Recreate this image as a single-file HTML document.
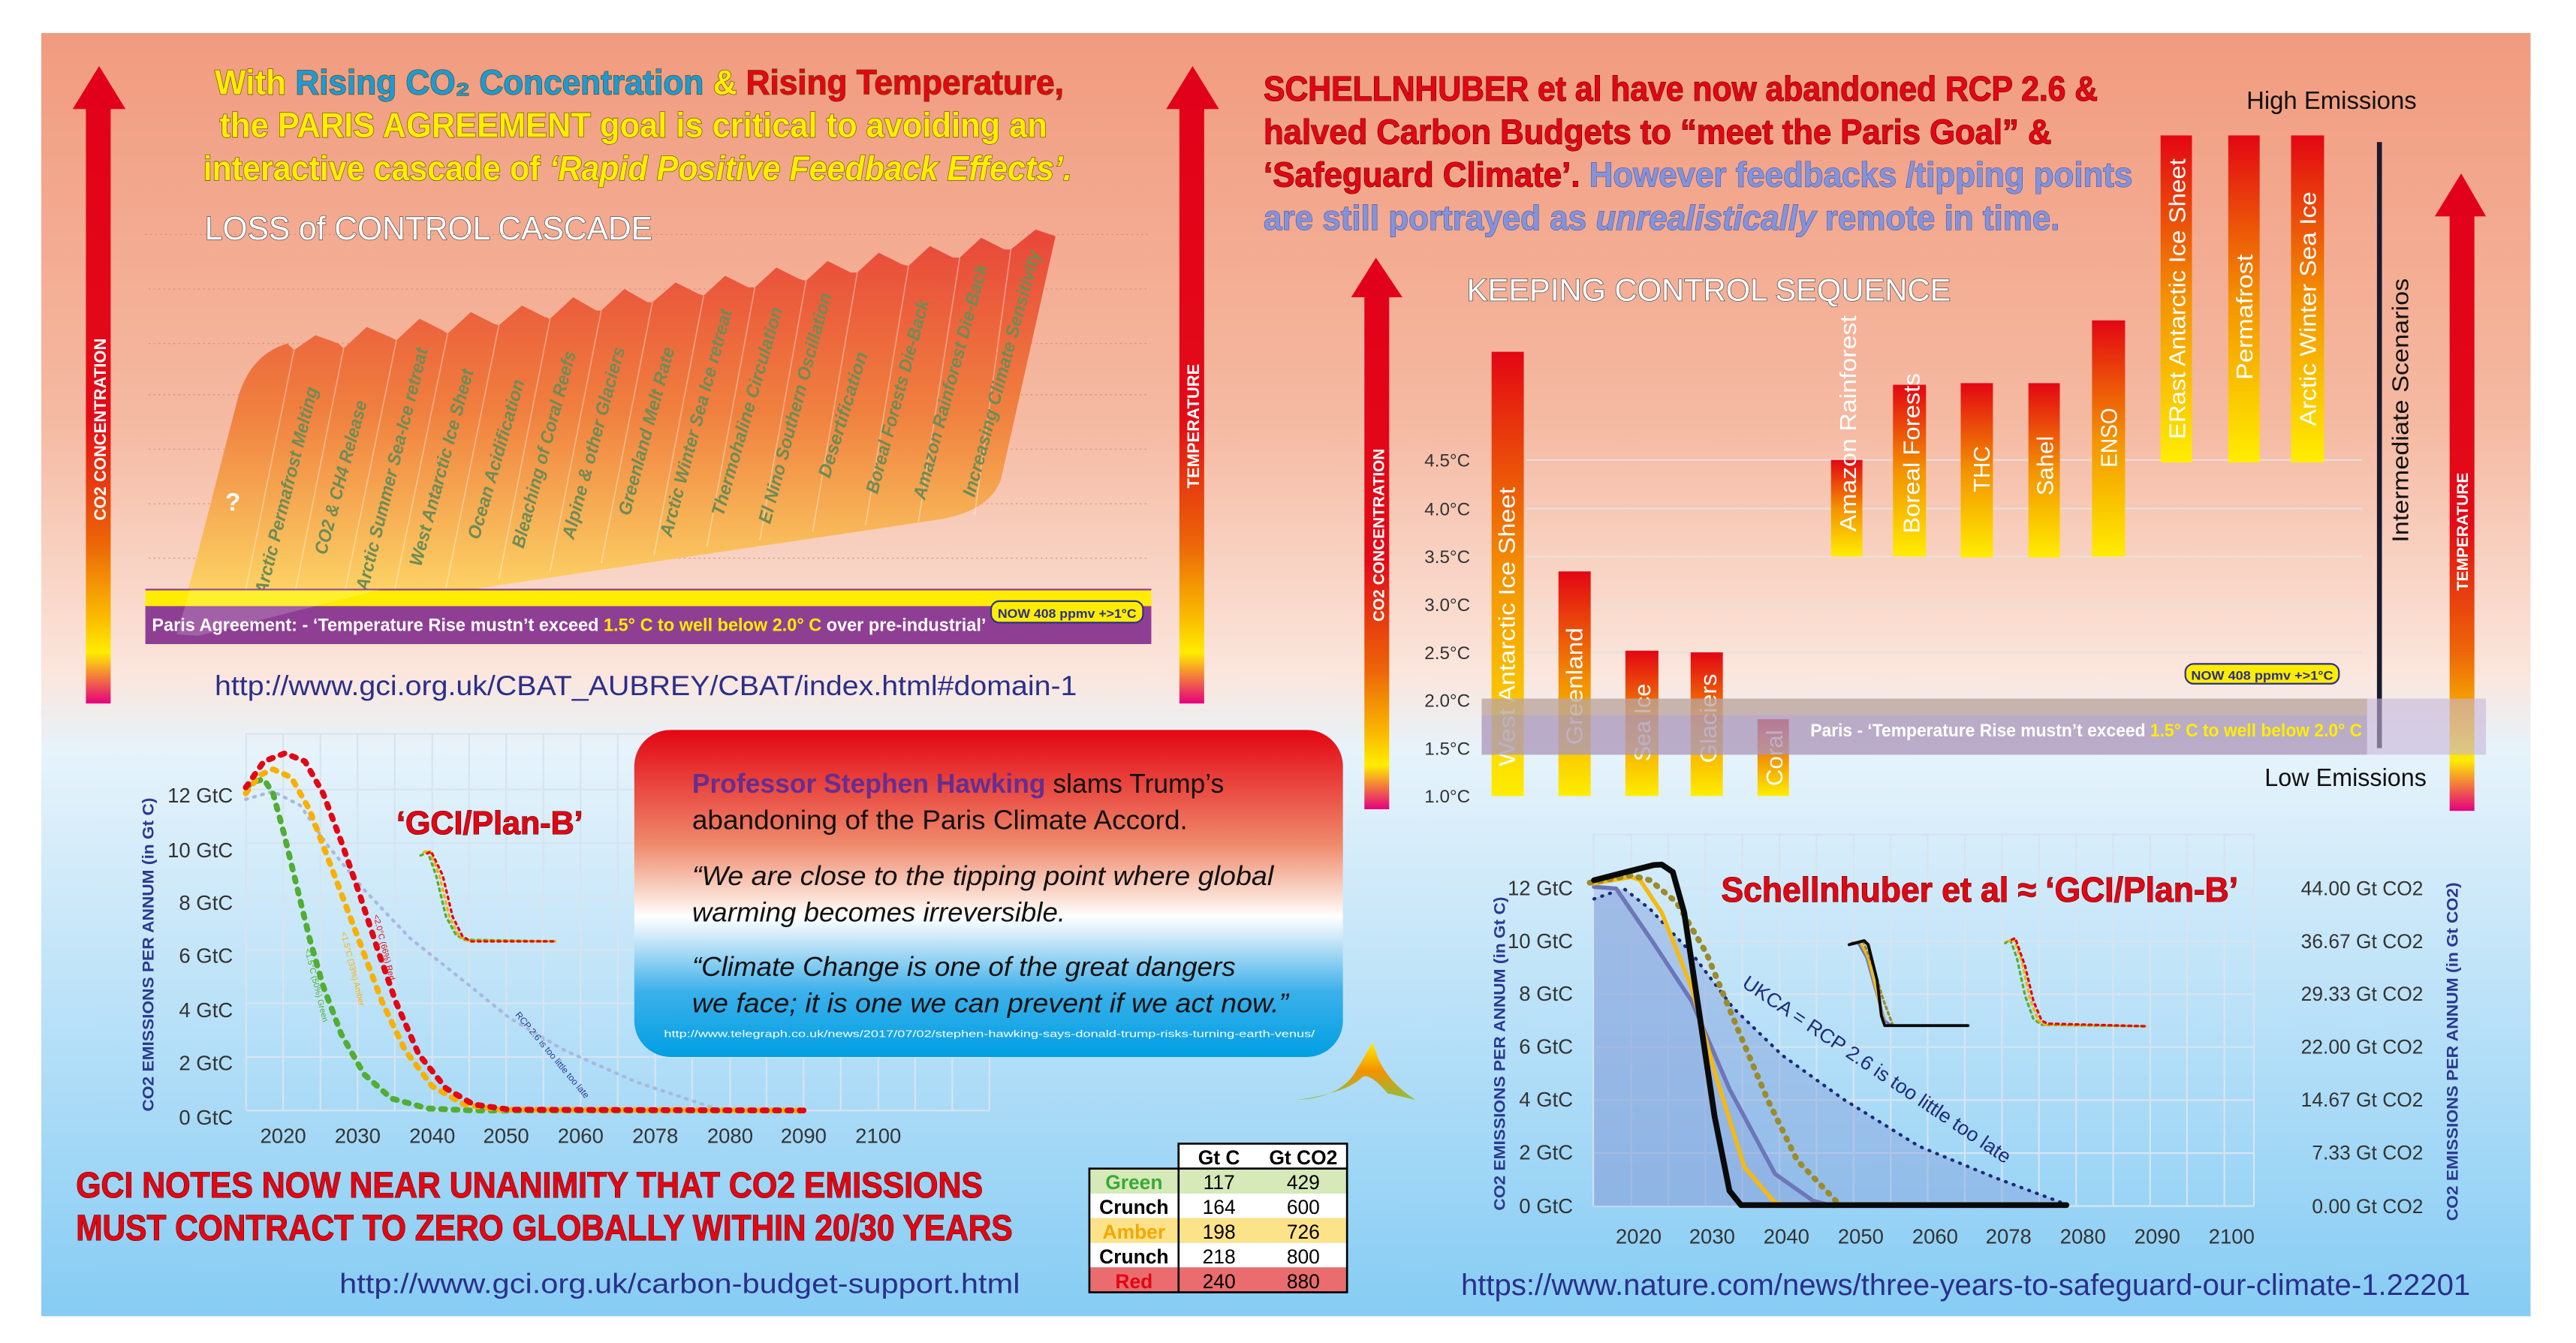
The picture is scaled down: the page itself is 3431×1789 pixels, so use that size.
<!DOCTYPE html>
<html><head><meta charset="utf-8"><style>html,body{margin:0;padding:0;background:#fff}svg{display:block}text{font-family:"Liberation Sans",sans-serif}</style></head>
<body>
<svg width="3431" height="1789" viewBox="0 0 1559.5 813.2" preserveAspectRatio="none" xmlns="http://www.w3.org/2000/svg">
<defs>
<linearGradient id="bg" x1="0" y1="20" x2="0" y2="797" gradientUnits="userSpaceOnUse">
<stop offset="0" stop-color="#f19b7f"/><stop offset="0.3" stop-color="#f5b9a1"/><stop offset="0.5" stop-color="#fbe6dd"/><stop offset="0.56" stop-color="#e6f3fb"/><stop offset="1" stop-color="#86ccf4"/></linearGradient>
<linearGradient id="arr" x1="0" y1="0" x2="0" y2="1">
<stop offset="0" stop-color="#e2001a"/><stop offset="0.55" stop-color="#e30b17"/><stop offset="0.75" stop-color="#ec6608"/><stop offset="0.87" stop-color="#fbbf00"/><stop offset="0.92" stop-color="#ffed00"/><stop offset="1" stop-color="#e5007e"/></linearGradient>
<linearGradient id="bar" x1="0" y1="0" x2="0" y2="1">
<stop offset="0" stop-color="#e30613"/><stop offset="0.5" stop-color="#f39200"/><stop offset="1" stop-color="#ffed00"/></linearGradient>
<linearGradient id="casc" x1="0" y1="139" x2="0" y2="384" gradientUnits="userSpaceOnUse">
<stop offset="0" stop-color="#e8473a"/><stop offset="0.45" stop-color="#f0803f"/><stop offset="1" stop-color="#ffe66e"/></linearGradient>
<linearGradient id="hawk" x1="0" y1="0" x2="0" y2="1">
<stop offset="0" stop-color="#e30613"/><stop offset="0.35" stop-color="#ef8a6c"/><stop offset="0.52" stop-color="#fbe3d8"/><stop offset="0.57" stop-color="#ffffff"/><stop offset="0.64" stop-color="#c9e7f8"/><stop offset="0.8" stop-color="#3cb0ea"/><stop offset="1" stop-color="#009fe3"/></linearGradient>
<linearGradient id="logo" x1="0" y1="0" x2="0" y2="1"><stop offset="0" stop-color="#ffed00"/><stop offset="0.5" stop-color="#f39200"/><stop offset="1" stop-color="#8cbf3f"/></linearGradient>
</defs>
<rect x="0" y="0" width="1559.5" height="813.2" fill="#fff"/>
<rect x="25" y="20" width="1507" height="777" fill="url(#bg)"/>

<path d="M44,66 L60,40 L76,66 L67,66 L67,426 L52,426 L52,66 Z" fill="url(#arr)"/>
<text transform="translate(64,260) rotate(-90)" text-anchor="middle" font-size="10" font-weight="bold" fill="#fff">CO2 CONCENTRATION</text>
<path d="M706,66 L722,40 L738,66 L729,66 L729,426 L714,426 L714,66 Z" fill="url(#arr)"/>
<text transform="translate(726,258) rotate(-90)" text-anchor="middle" font-size="10" font-weight="bold" fill="#fff">TEMPERATURE</text>

<g font-weight="bold" font-size="21" stroke="#5a4a00" stroke-width="0.6" paint-order="stroke">
<text x="130" y="57" textLength="514" lengthAdjust="spacingAndGlyphs"><tspan fill="#ffed00">With </tspan><tspan fill="#1d9ad6">Rising CO₂ Concentration </tspan><tspan fill="#ffed00">&amp; </tspan><tspan fill="#e30613">Rising Temperature,</tspan></text>
<text x="133" y="83" textLength="501" lengthAdjust="spacingAndGlyphs" fill="#ffed00">the PARIS AGREEMENT goal is critical to avoiding an</text>
<text x="123" y="109" textLength="526" lengthAdjust="spacingAndGlyphs" fill="#ffed00">interactive cascade of <tspan font-style="italic">‘Rapid Positive Feedback Effects’.</tspan></text>
</g>
<text x="124" y="145" textLength="271" lengthAdjust="spacingAndGlyphs" font-size="20" fill="#fff" stroke="#555" stroke-width="0.7" paint-order="stroke">LOSS of CONTROL CASCADE</text>

<g stroke="#c98a7a" stroke-width="0.6" stroke-dasharray="1,2" opacity="0.8">
<line x1="88" y1="142" x2="695" y2="142"/><line x1="90" y1="175" x2="695" y2="175"/><line x1="90" y1="208" x2="695" y2="208"/><line x1="90" y1="239" x2="695" y2="239"/><line x1="90" y1="272" x2="695" y2="272"/><line x1="90" y1="305" x2="695" y2="305"/><line x1="90" y1="338" x2="695" y2="338"/>
</g>

<path d="M107,384 L143,245 Q150,215 174,208 L178,212 L191,203 L205,208 L208,211 L222,198 L236,204 L240,206 L254,193 L268,200 L271,202 L285,189 L299,196 L302,197 L316,185 L330,192 L333,193 L347,180 L361,188 L364,188 L378,175 L392,183 L395,183 L409,171 L423,178 L426,179 L439,167 L453,174 L457,174 L470,162 L484,169 L488,170 L501,158 L515,165 L519,165 L532,153 L546,160 L550,161 L563,149 L577,156 L581,156 L594,144 L608,151 L612,151 L627,139 L639,143 L606,290 Q600,308 572,314 L539,319 L417,337 L298,355 Z" fill="url(#casc)"/>
<g stroke="#fff" stroke-opacity="0.35" stroke-width="0.8">
<line x1="178" y1="212" x2="145" y2="376"/><line x1="208" y1="211" x2="176" y2="372"/><line x1="240" y1="206" x2="207" y2="367"/><line x1="271" y1="202" x2="238" y2="362"/><line x1="302" y1="197" x2="270" y2="356"/><line x1="333" y1="193" x2="302" y2="351"/><line x1="364" y1="188" x2="333" y2="346"/><line x1="395" y1="183" x2="364" y2="341"/><line x1="426" y1="179" x2="396" y2="336"/><line x1="457" y1="174" x2="428" y2="331"/><line x1="488" y1="170" x2="460" y2="327"/><line x1="519" y1="165" x2="492" y2="322"/><line x1="550" y1="161" x2="524" y2="318"/><line x1="581" y1="156" x2="556" y2="316"/><line x1="612" y1="151" x2="590" y2="312"/>
</g>
<text x="141" y="309" font-size="15" font-weight="bold" fill="#fff" text-anchor="middle">?</text>
<g font-size="11" font-weight="bold" font-style="italic" fill="#6e8c55" text-anchor="middle">
<text transform="translate(173,297) rotate(-76)" dy="4" textLength="129" lengthAdjust="spacingAndGlyphs">Arctic Permafrost Melting</text>
<text transform="translate(206,289) rotate(-75)" dy="4" textLength="96" lengthAdjust="spacingAndGlyphs">CO2 &amp; CH4 Release</text>
<text transform="translate(237,284) rotate(-76)" dy="4" textLength="151" lengthAdjust="spacingAndGlyphs">Arctic Summer Sea-Ice retreat</text>
<text transform="translate(267,283) rotate(-75)" dy="4" textLength="123" lengthAdjust="spacingAndGlyphs">West Antarctic Ice Sheet</text>
<text transform="translate(300,278) rotate(-74)" dy="4" textLength="100" lengthAdjust="spacingAndGlyphs">Ocean Acidification</text>
<text transform="translate(329,272) rotate(-75)" dy="4" textLength="123" lengthAdjust="spacingAndGlyphs">Bleaching of Coral Reefs</text>
<text transform="translate(359,268) rotate(-75)" dy="4" textLength="120" lengthAdjust="spacingAndGlyphs">Alpine &amp; other Glaciers</text>
<text transform="translate(391,261) rotate(-75)" dy="4" textLength="105" lengthAdjust="spacingAndGlyphs">Greenland Melt Rate</text>
<text transform="translate(421,256) rotate(-75)" dy="4" textLength="142" lengthAdjust="spacingAndGlyphs">Arctic Winter Sea Ice retreat</text>
<text transform="translate(452,249) rotate(-74)" dy="4" textLength="131" lengthAdjust="spacingAndGlyphs">Thermohaline Circulation</text>
<text transform="translate(481,247) rotate(-75)" dy="4" textLength="144" lengthAdjust="spacingAndGlyphs">El Nino Southern Oscillation</text>
<text transform="translate(510,251) rotate(-73)" dy="4" textLength="79" lengthAdjust="spacingAndGlyphs">Desertification</text>
<text transform="translate(543,240) rotate(-75)" dy="4" textLength="121" lengthAdjust="spacingAndGlyphs">Boreal Forests Die-Back</text>
<text transform="translate(575,231) rotate(-75)" dy="4" textLength="147" lengthAdjust="spacingAndGlyphs">Amazon Rainforest Die-Back</text>
<text transform="translate(606,226) rotate(-75)" dy="4" textLength="154" lengthAdjust="spacingAndGlyphs">Increasing Climate Sensitivity</text>
</g>

<rect x="88" y="357" width="609" height="10" fill="#ffed00"/>
<line x1="88" y1="357" x2="697" y2="357" stroke="#8e3f94" stroke-width="1"/>
<rect x="88" y="367" width="609" height="23" fill="#8e3f94"/>
<path d="M107,384 L115,357 L230,357 L120,385 Z" fill="#fff" opacity="0.18"/>
<text x="92" y="382" font-size="11" font-weight="bold" fill="#fff" textLength="505" lengthAdjust="spacingAndGlyphs">Paris  Agreement: - ‘Temperature Rise mustn’t exceed <tspan fill="#ffed00">1.5° C to well below 2.0° C</tspan> over pre-industrial’</text>
<rect x="600" y="364" width="92" height="13" rx="5" fill="#ffed00" stroke="#2b2f8a" stroke-width="1"/>
<text x="646" y="374" text-anchor="middle" font-size="7.5" font-weight="bold" fill="#2b2f8a" textLength="84" lengthAdjust="spacingAndGlyphs">NOW 408 ppmv +&gt;1°C</text>
<text x="130" y="421" font-size="17" fill="#2b2f8a" textLength="522" lengthAdjust="spacingAndGlyphs">http://www.gci.org.uk/CBAT_AUBREY/CBAT/index.html#domain-1</text>

<g font-weight="bold" font-size="21" stroke="#4a0000" stroke-width="0.5" paint-order="stroke">
<text x="765" y="61" fill="#e30613" textLength="505" lengthAdjust="spacingAndGlyphs">SCHELLNHUBER et al have now abandoned RCP 2.6 &amp;</text>
<text x="765" y="87" fill="#e30613" textLength="477" lengthAdjust="spacingAndGlyphs">halved Carbon Budgets  to “meet the Paris Goal” &amp;</text>
<text x="765" y="113" textLength="526" lengthAdjust="spacingAndGlyphs"><tspan fill="#e30613">‘Safeguard Climate’.</tspan><tspan fill="#8393dc" stroke="#4a4a8a"> However feedbacks /tipping points</tspan></text>
<text x="765" y="139" fill="#8393dc" stroke="#4a4a8a" textLength="482" lengthAdjust="spacingAndGlyphs">are still portrayed as <tspan font-style="italic">unrealistically</tspan> remote in time.</text>
</g>
<text x="1360" y="66" font-size="15" fill="#111" textLength="103" lengthAdjust="spacingAndGlyphs">High Emissions</text>
<text x="888" y="182" font-size="19" fill="#fff" stroke="#555" stroke-width="0.7" paint-order="stroke" textLength="293" lengthAdjust="spacingAndGlyphs">KEEPING CONTROL SEQUENCE</text>

<path d="M818,180 L833,156 L849,180 L841,180 L841,490 L826,490 L826,180 Z" fill="url(#arr)"/>
<text transform="translate(838,324) rotate(-90)" text-anchor="middle" font-size="9.5" font-weight="bold" fill="#fff">CO2 CONCENTRATION</text>
<path d="M1474,131 L1490,105 L1505,131 L1498,131 L1498,491 L1483,491 L1483,131 Z" fill="url(#arr)"/>
<text transform="translate(1494,322) rotate(-90)" text-anchor="middle" font-size="9.5" font-weight="bold" fill="#fff">TEMPERATURE</text>

<g stroke="#e8e0dc" stroke-width="1">
<line x1="924" y1="278.5" x2="1430" y2="278.5"/><line x1="924" y1="308" x2="1430" y2="308"/><line x1="924" y1="337" x2="1430" y2="337"/><line x1="924" y1="366" x2="1430" y2="366"/><line x1="924" y1="395" x2="1430" y2="395"/>
</g>
<g font-size="11" fill="#333" text-anchor="end">
<text x="890" y="282.5">4.5°C</text><text x="890" y="312">4.0°C</text><text x="890" y="341">3.5°C</text><text x="890" y="370">3.0°C</text><text x="890" y="399">2.5°C</text><text x="890" y="428">2.0°C</text><text x="890" y="457">1.5°C</text><text x="890" y="486">1.0°C</text>
</g>
<g fill="url(#bar)">
<rect x="903" y="213" width="19.5" height="269"/>
<rect x="943.5" y="346" width="19.5" height="136"/>
<rect x="984" y="394" width="20" height="88"/>
<rect x="1023.5" y="395" width="19.5" height="87"/>
<rect x="1064" y="435.5" width="19" height="46.5"/>
<rect x="1108.5" y="278.5" width="19" height="58.5"/>
<rect x="1146" y="233" width="20" height="104"/>
<rect x="1187" y="232" width="19.5" height="105.5"/>
<rect x="1228" y="232" width="19" height="105.5"/>
<rect x="1266.5" y="194" width="20" height="143"/>
<rect x="1308" y="82" width="19" height="198"/>
<rect x="1349" y="82" width="19" height="198"/>
<rect x="1387" y="82" width="20" height="198"/>
</g>
<g font-size="14" fill="#fff">
<text transform="translate(917,464) rotate(-90)" textLength="169" lengthAdjust="spacingAndGlyphs">West Antarctic Ice Sheet</text>
<text transform="translate(958,451) rotate(-90)" textLength="71" lengthAdjust="spacingAndGlyphs">Greenland</text>
<text transform="translate(999,461) rotate(-90)" textLength="47" lengthAdjust="spacingAndGlyphs">Sea Ice</text>
<text transform="translate(1039,462) rotate(-90)" textLength="54" lengthAdjust="spacingAndGlyphs">Glaciers</text>
<text transform="translate(1079,476) rotate(-90)" textLength="34" lengthAdjust="spacingAndGlyphs">Coral</text>
<text transform="translate(1123.5,322) rotate(-90)" textLength="131" lengthAdjust="spacingAndGlyphs">Amazon Rainforest</text>
<text transform="translate(1162,323) rotate(-90)" textLength="97" lengthAdjust="spacingAndGlyphs">Boreal Forests</text>
<text transform="translate(1204.5,298) rotate(-90)" textLength="28" lengthAdjust="spacingAndGlyphs">THC</text>
<text transform="translate(1243,300) rotate(-90)" textLength="36" lengthAdjust="spacingAndGlyphs">Sahel</text>
<text transform="translate(1281.5,283) rotate(-90)" textLength="36" lengthAdjust="spacingAndGlyphs">ENSO</text>
<text transform="translate(1323,266) rotate(-90)" textLength="170" lengthAdjust="spacingAndGlyphs">ERast Antarctic Ice Sheet</text>
<text transform="translate(1363.5,230) rotate(-90)" textLength="76" lengthAdjust="spacingAndGlyphs">Permafrost</text>
<text transform="translate(1402,258) rotate(-90)" textLength="142" lengthAdjust="spacingAndGlyphs">Arctic Winter Sea Ice</text>
</g>
<line x1="1440.5" y1="86" x2="1440.5" y2="453" stroke="#1a1a2e" stroke-width="3"/>
<text transform="translate(1458,328.5) rotate(-90)" font-size="14" fill="#111" textLength="160" lengthAdjust="spacingAndGlyphs">Intermediate Scenarios</text>
<rect x="1323" y="402" width="93" height="12" rx="5" fill="#ffed00" stroke="#2b2f8a" stroke-width="1"/>
<text x="1369.5" y="411.5" text-anchor="middle" font-size="7.5" font-weight="bold" fill="#2b2f8a" textLength="86" lengthAdjust="spacingAndGlyphs">NOW 408 ppmv +&gt;1°C</text>
<rect x="897" y="423" width="608" height="34" fill="#c7b6d8" opacity="0.6"/>
<rect x="897" y="423" width="536" height="10" fill="#b39a72" opacity="0.45"/>
<rect x="897" y="433" width="536" height="24" fill="#9a86a6" opacity="0.45"/>
<text x="1096" y="446" font-size="11" font-weight="bold" fill="#fff" textLength="334" lengthAdjust="spacingAndGlyphs">Paris  - ‘Temperature Rise mustn’t exceed <tspan fill="#ffed00">1.5° C to well below 2.0° C</tspan></text>
<text x="1371" y="476" font-size="15" fill="#111" textLength="98" lengthAdjust="spacingAndGlyphs">Low Emissions</text>

<g stroke="#d6e4f0" stroke-width="1">
<line x1="149" y1="444.4" x2="599" y2="444.4"/><line x1="149" y1="478" x2="599" y2="478"/><line x1="149" y1="510.5" x2="599" y2="510.5"/><line x1="149" y1="543" x2="599" y2="543"/><line x1="149" y1="575" x2="599" y2="575"/><line x1="149" y1="607.5" x2="599" y2="607.5"/><line x1="149" y1="640" x2="599" y2="640"/><line x1="149" y1="672.4" x2="599" y2="672.4"/>
<line x1="149" y1="444" x2="149" y2="672"/><line x1="171.4" y1="444" x2="171.4" y2="672"/><line x1="194" y1="444" x2="194" y2="672"/><line x1="216.5" y1="444" x2="216.5" y2="672"/><line x1="239" y1="444" x2="239" y2="672"/><line x1="261.7" y1="444" x2="261.7" y2="672"/><line x1="284" y1="444" x2="284" y2="672"/><line x1="306.4" y1="444" x2="306.4" y2="672"/><line x1="329" y1="444" x2="329" y2="672"/><line x1="351.5" y1="444" x2="351.5" y2="672"/><line x1="374" y1="444" x2="374" y2="672"/><line x1="396.7" y1="444" x2="396.7" y2="672"/><line x1="419" y1="444" x2="419" y2="672"/><line x1="442" y1="444" x2="442" y2="672"/><line x1="464" y1="444" x2="464" y2="672"/><line x1="486.5" y1="444" x2="486.5" y2="672"/><line x1="509" y1="444" x2="509" y2="672"/><line x1="531.7" y1="444" x2="531.7" y2="672"/><line x1="554" y1="444" x2="554" y2="672"/><line x1="576.5" y1="444" x2="576.5" y2="672"/><line x1="599" y1="444" x2="599" y2="672"/>
</g>
<g font-size="12.5" fill="#333" text-anchor="end">
<text x="141" y="486">12 GtC</text><text x="141" y="519">10 GtC</text><text x="141" y="551">8 GtC</text><text x="141" y="583">6 GtC</text><text x="141" y="616">4 GtC</text><text x="141" y="648">2 GtC</text><text x="141" y="681">0 GtC</text>
</g>
<g font-size="12.5" fill="#333" text-anchor="middle">
<text x="171.4" y="692">2020</text><text x="216.5" y="692">2030</text><text x="261.7" y="692">2040</text><text x="306.4" y="692">2050</text><text x="351.5" y="692">2060</text><text x="396.7" y="692">2078</text><text x="442" y="692">2080</text><text x="486.5" y="692">2090</text><text x="531.7" y="692">2100</text>
</g>
<text transform="translate(93,578) rotate(-90)" text-anchor="middle" font-size="9.5" font-weight="bold" fill="#2b3990" textLength="190" lengthAdjust="spacingAndGlyphs">CO2 EMISSIONS PER ANNUM (in Gt C)</text>
<g fill="none" stroke-linecap="round" stroke-linejoin="round">
<path d="M148.8,484 L165.3,479.2 L181.8,487.7 L198.4,512 L220.4,538.7 L248,567.9 L275.5,589.8 L308.6,616.5 L341.6,635.9 L385.7,655.4 L435.3,671.9" stroke="#a9b8e0" stroke-width="2" stroke-dasharray="1,4"/>
<path d="M148.8,476.8 L154.3,473.1 L159.8,471.9 L165.3,480.4 L171.9,504.7 L179,533.9 L187.3,567.9 L195.6,597 L206.6,626.2 L220.4,650.5 L236.9,665.1 L259,671.2 L286.5,672.4 L479.4,672.4" stroke="#52ae32" stroke-width="3.5" stroke-dasharray="2.5,5"/>
<path d="M148.8,480.4 L157,469.5 L165.3,465.8 L176.3,470.7 L187.3,490.1 L198.4,519.3 L209.4,548.4 L220.4,577.6 L231.4,606.8 L245.2,635.9 L261.7,657.8 L281,668.7 L303,671.9 L485,672.4" stroke="#f9b000" stroke-width="3.5" stroke-dasharray="2.5,5"/>
<path d="M148.8,476.8 L159.8,461 L172.5,456.1 L184.6,461 L195.6,480.4 L206.6,509.6 L217.6,541.2 L228.7,575.2 L239.7,606.8 L253.5,638.4 L270,659 L286.5,668.7 L308.6,671.9 L486.5,672.4" stroke="#e30613" stroke-width="3.5" stroke-dasharray="2.5,5"/>
<path d="M254.6,518 L259,516 L264,530 L270,555 L276,566 L281,569 L337,570" stroke="#52ae32" stroke-width="1.5" stroke-dasharray="1.5,2.5"/>
<path d="M256.6,516 L260,515 L266,530 L272,555 L278,567 L283,569.5 L337,570" stroke="#f9b000" stroke-width="1.5" stroke-dasharray="1.5,2.5"/>
<path d="M258.6,516.8 L261,515.6 L268,530 L274,555 L280,567 L285,570 L337,570" stroke="#e30613" stroke-width="1.5" stroke-dasharray="1.5,2.5"/>
</g>
<text transform="translate(333,640) rotate(50)" text-anchor="middle" font-size="5.5" fill="#2b3990">RCP 2.6 is too little too late</text>
<text transform="translate(231,574) rotate(76)" text-anchor="middle" font-size="5" fill="#e30613">&lt;2.0°C (66%) Red</text>
<text transform="translate(212,587) rotate(76)" text-anchor="middle" font-size="5" fill="#f9b000">&lt;1.5°C (33%) Amber</text>
<text transform="translate(190,597) rotate(76)" text-anchor="middle" font-size="5" fill="#52ae32">&lt;1.5°C (50%) Green</text>
<text x="240" y="505" font-size="20" font-weight="bold" fill="#e30613" stroke="#4a0000" stroke-width="0.5" paint-order="stroke" textLength="113" lengthAdjust="spacingAndGlyphs">‘GCI/Plan-B’</text>

<rect x="384" y="442" width="429" height="198" rx="22" fill="url(#hawk)"/>
<g font-size="16.5" fill="#111">
<text x="419" y="480" textLength="322" lengthAdjust="spacingAndGlyphs"><tspan fill="#662d91" font-weight="bold">Professor Stephen Hawking</tspan> slams Trump’s</text>
<text x="419" y="502" textLength="300" lengthAdjust="spacingAndGlyphs">abandoning of the Paris Climate Accord.</text>
<text x="419" y="536" font-style="italic" textLength="352" lengthAdjust="spacingAndGlyphs">“We are close to the tipping point where global</text>
<text x="419" y="558" font-style="italic" textLength="226" lengthAdjust="spacingAndGlyphs">warming becomes irreversible.</text>
<text x="419" y="591" font-style="italic" textLength="329" lengthAdjust="spacingAndGlyphs">“Climate Change is one of the great dangers</text>
<text x="419" y="613" font-style="italic" textLength="361" lengthAdjust="spacingAndGlyphs">we face; it is one we can prevent if we act now.”</text>
</g>
<text x="402" y="628" font-size="6" fill="#fff" textLength="394" lengthAdjust="spacingAndGlyphs">http://www.telegraph.co.uk/news/2017/07/02/stephen-hawking-says-donald-trump-risks-turning-earth-venus/</text>
<path d="M785,666 Q810,665 820,650 Q826,640 831,631 L834,640 Q840,655 857,666 L840,662 Q830,650 825,652 Q815,662 785,666 Z" fill="url(#logo)"/>

<g font-size="22" font-weight="bold" fill="#e30613" stroke="#4a0000" stroke-width="0.5" paint-order="stroke">
<text x="46" y="725" textLength="549" lengthAdjust="spacingAndGlyphs">GCI NOTES NOW NEAR UNANIMITY THAT CO2 EMISSIONS</text>
<text x="46" y="751" textLength="567" lengthAdjust="spacingAndGlyphs">MUST CONTRACT TO ZERO GLOBALLY WITHIN 20/30 YEARS</text>
</g>
<text x="205.5" y="783" font-size="17" fill="#2b2f8a" textLength="412" lengthAdjust="spacingAndGlyphs">http://www.gci.org.uk/carbon-budget-support.html</text>

<rect x="713.5" y="692.5" width="102" height="15.1" fill="#fff" stroke="#000" stroke-width="1.2"/>
<rect x="659.5" y="707.6" width="156" height="15.1" fill="#d6e9b8"/>
<rect x="659.5" y="722.7" width="156" height="14.8" fill="#fff"/>
<rect x="659.5" y="737.5" width="156" height="15.1" fill="#fce38a"/>
<rect x="659.5" y="752.6" width="156" height="14.8" fill="#fff"/>
<rect x="659.5" y="767.4" width="156" height="15.1" fill="#ea6c6f"/>
<rect x="659.5" y="707.6" width="156" height="74.9" fill="none" stroke="#000" stroke-width="1.2"/>
<line x1="713.5" y1="692.5" x2="713.5" y2="782.5" stroke="#000" stroke-width="1.2"/>
<g font-size="12" text-anchor="middle">
<text x="738" y="705" font-weight="bold">Gt C</text><text x="789" y="705" font-weight="bold">Gt CO2</text>
<text x="686.5" y="720" font-weight="bold" fill="#3aaa35">Green</text><text x="738" y="720">117</text><text x="789" y="720">429</text>
<text x="686.5" y="735" font-weight="bold">Crunch</text><text x="738" y="735">164</text><text x="789" y="735">600</text>
<text x="686.5" y="750" font-weight="bold" fill="#f7a600">Amber</text><text x="738" y="750">198</text><text x="789" y="750">726</text>
<text x="686.5" y="765" font-weight="bold">Crunch</text><text x="738" y="765">218</text><text x="789" y="765">800</text>
<text x="686.5" y="780" font-weight="bold" fill="#e30613">Red</text><text x="738" y="780">240</text><text x="789" y="780">880</text>
</g>

<g stroke="#d6e4f0" stroke-width="1">
<line x1="964.7" y1="505.3" x2="1364.5" y2="505.3"/><line x1="964.7" y1="537.8" x2="1364.5" y2="537.8"/><line x1="964.7" y1="570" x2="1364.5" y2="570"/><line x1="964.7" y1="602" x2="1364.5" y2="602"/><line x1="964.7" y1="634" x2="1364.5" y2="634"/><line x1="964.7" y1="666.1" x2="1364.5" y2="666.1"/><line x1="964.7" y1="698.2" x2="1364.5" y2="698.2"/><line x1="964.7" y1="730.3" x2="1364.5" y2="730.3"/>
<line x1="964.7" y1="505" x2="964.7" y2="730"/><line x1="987.6" y1="505" x2="987.6" y2="730"/><line x1="1010" y1="505" x2="1010" y2="730"/><line x1="1032.4" y1="505" x2="1032.4" y2="730"/><line x1="1054.8" y1="505" x2="1054.8" y2="730"/><line x1="1077.3" y1="505" x2="1077.3" y2="730"/><line x1="1099.7" y1="505" x2="1099.7" y2="730"/><line x1="1122.2" y1="505" x2="1122.2" y2="730"/><line x1="1144.6" y1="505" x2="1144.6" y2="730"/><line x1="1167" y1="505" x2="1167" y2="730"/><line x1="1189.5" y1="505" x2="1189.5" y2="730"/><line x1="1212" y1="505" x2="1212" y2="730"/><line x1="1234.4" y1="505" x2="1234.4" y2="730"/><line x1="1256.9" y1="505" x2="1256.9" y2="730"/><line x1="1279.3" y1="505" x2="1279.3" y2="730"/><line x1="1301.7" y1="505" x2="1301.7" y2="730"/><line x1="1324" y1="505" x2="1324" y2="730"/><line x1="1346.6" y1="505" x2="1346.6" y2="730"/><line x1="1364.5" y1="505" x2="1364.5" y2="730"/>
</g>
<path d="M965,544.3 L983,538 L999,550.5 L1024,577 L1049,610 L1079,639 L1116,665.6 L1161.6,694 L1207,712.8 L1251,729.3 L1251,730.3 L965,730.3 Z" fill="#8aa6de" opacity="0.5"/>
<path d="M965,537 L978.4,538 L1001,571 L1024,606 L1047,659.4 L1074.6,710.8 L1097.5,727 L1110,730.3 L965,730.3 Z" fill="#8aa6de" opacity="0.35"/>
<g font-size="12.5" fill="#333" text-anchor="end">
<text x="952.3" y="542">12 GtC</text><text x="952.3" y="574">10 GtC</text><text x="952.3" y="606">8 GtC</text><text x="952.3" y="638">6 GtC</text><text x="952.3" y="670">4 GtC</text><text x="952.3" y="702">2 GtC</text><text x="952.3" y="734.5">0 GtC</text>
</g>
<g font-size="12" fill="#333" text-anchor="end">
<text x="1467" y="542">44.00 Gt CO2</text><text x="1467" y="574">36.67 Gt CO2</text><text x="1467" y="606">29.33 Gt CO2</text><text x="1467" y="638">22.00 Gt CO2</text><text x="1467" y="670">14.67 Gt CO2</text><text x="1467" y="702">7.33 Gt CO2</text><text x="1467" y="734.5">0.00 Gt CO2</text>
</g>
<g font-size="12.5" fill="#333" text-anchor="middle">
<text x="992" y="753">2020</text><text x="1036.5" y="753">2030</text><text x="1081.5" y="753">2040</text><text x="1126.5" y="753">2050</text><text x="1171.5" y="753">2060</text><text x="1216" y="753">2078</text><text x="1261" y="753">2080</text><text x="1306" y="753">2090</text><text x="1351" y="753">2100</text>
</g>
<text transform="translate(911,638) rotate(-90)" text-anchor="middle" font-size="9.5" font-weight="bold" fill="#2b3990" textLength="190" lengthAdjust="spacingAndGlyphs">CO2 EMISSIONS PER ANNUM (in Gt C)</text>
<text transform="translate(1488,636.8) rotate(-90)" text-anchor="middle" font-size="9.5" font-weight="bold" fill="#2b3990" textLength="205" lengthAdjust="spacingAndGlyphs">CO2 EMISSIONS PER ANNUM (in Gt CO2)</text>
<g fill="none" stroke-linecap="round" stroke-linejoin="round">
<path d="M965,544.3 L983,538 L999,550.5 L1024,577 L1049,610 L1079,639 L1116,665.6 L1161.6,694 L1207,712.8 L1251,729.3" stroke="#1d2b7a" stroke-width="2" stroke-dasharray="0.5,4.5"/>
<path d="M965,537 L978.4,538 L1001,571 L1024,606 L1047,659.4 L1074.6,710.8 L1097.5,727 L1110,730.3" stroke="#6c76b8" stroke-width="2.5"/>
<path d="M965,535 L987.6,531 L993,533 L1006,552.6 L1024,597.8 L1038,649 L1056,706.7 L1074.6,728.3 L1085,730.3" stroke="#f6b90f" stroke-width="2.5"/>
<path d="M962.4,534.5 L987.6,530 L999,533 L1015,546.4 L1033,577 L1051.7,622.4 L1070,665.6 L1088,702.6 L1113.5,729.3" stroke="#9b8b2a" stroke-width="3.5" stroke-dasharray="1,5"/>
<path d="M965,533 L1001,523.8 L1006,523.5 L1012.7,528 L1019.6,552.6 L1028.8,614 L1038,676 L1047,721 L1054,729.7 L1251,729.7" stroke="#0a0a0a" stroke-width="3.5"/>
<path d="M1119.5,572 L1125,571 L1130,580 L1135,598 L1141,618 L1145,621" stroke="#6c76b8" stroke-width="1.5"/>
<path d="M1119.5,572 L1126,570 L1131,580 L1136,600 L1141,620" stroke="#f6b90f" stroke-width="1.5"/>
<path d="M1121,571 L1128,570 L1134,585 L1140,605 L1146,621" stroke="#9b8b2a" stroke-width="1.5" stroke-dasharray="1.5,2"/>
<path d="M1119.5,572 L1128.6,569.6 L1131,572 L1136.4,593.6 L1139,615 L1141,621 L1191.4,621" stroke="#0a0a0a" stroke-width="1.8"/>
<path d="M1214,571 L1217,569 L1221,580 L1226,603 L1231,617 L1236,620.5 L1299,621.4" stroke="#52ae32" stroke-width="1.5" stroke-dasharray="1.5,2.5"/>
<path d="M1216,570 L1219,568 L1224,582 L1229,605 L1234,618 L1238,620.5 L1299,621.4" stroke="#f9b000" stroke-width="1.5" stroke-dasharray="1.5,2.5"/>
<path d="M1218,569 L1220,568 L1226,585 L1231,606 L1236,618 L1239.5,619.8 L1299,621.4" stroke="#e30613" stroke-width="1.5" stroke-dasharray="1.5,2.5"/>
</g>
<text transform="translate(1134,651) rotate(34)" text-anchor="middle" font-size="12" fill="#1d2b7a" textLength="193" lengthAdjust="spacingAndGlyphs">UKCA  = RCP 2.6 is too little too late</text>
<text x="1042" y="546" font-size="21" font-weight="bold" fill="#e30613" stroke="#4a0000" stroke-width="0.5" paint-order="stroke" textLength="313" lengthAdjust="spacingAndGlyphs">Schellnhuber et al ≈ ‘GCI/Plan-B’</text>
<text x="884.5" y="784" font-size="18" fill="#2b2f8a" textLength="611" lengthAdjust="spacingAndGlyphs">https://www.nature.com/news/three-years-to-safeguard-our-climate-1.22201</text>
</svg>
</body></html>
